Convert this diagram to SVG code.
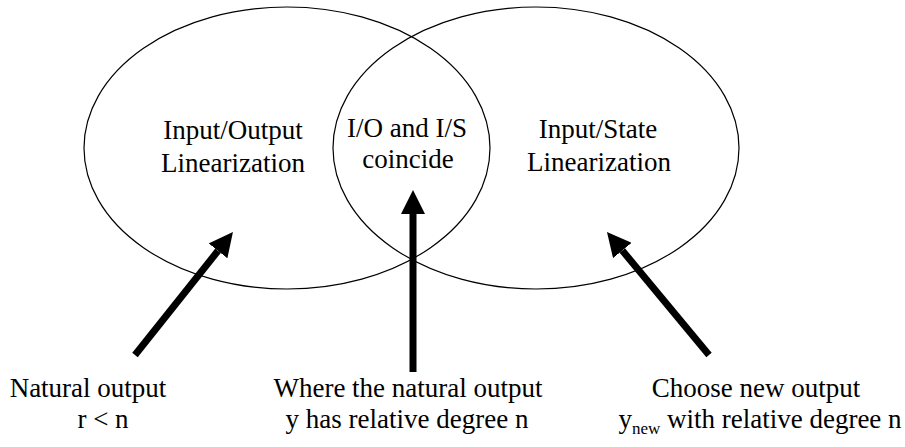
<svg xmlns="http://www.w3.org/2000/svg" width="905" height="447" viewBox="0 0 905 447">
<style>
.ell{fill:none;stroke:#000;stroke-width:1.2}
.t{font-size:27px;fill:#000;text-anchor:middle}
.arr{stroke:#000;stroke-width:7;fill:none;marker-end:url(#head)}
</style>
<defs>
<marker id="head" markerUnits="userSpaceOnUse" viewBox="0 0 24 24" markerWidth="24" markerHeight="24" refX="0" refY="12" orient="auto">
<path d="M0,0 L24,12 L0,24 z" fill="#000"/>
</marker>
</defs>
<rect width="905" height="447" fill="#fff"/>
<g font-family="'Liberation Serif', 'Times New Roman', 'DejaVu Serif', serif">
<g id="io-lin">
<ellipse class="ell" cx="287" cy="148" rx="203" ry="141"/>
<text class="t" x="233" y="139">Input/Output</text>
<text class="t" x="233" y="172">Linearization</text>
</g>
<g id="is-lin">
<ellipse class="ell" cx="536" cy="148" rx="203" ry="141"/>
<text class="t" x="598" y="138">Input/State</text>
<text class="t" x="599" y="171">Linearization</text>
</g>
<g id="coincide">
<text class="t" x="407" y="137">I/O and I/S</text>
<text class="t" x="408" y="168">coincide</text>
</g>
<g id="natural">
<text class="t" x="88" y="397">Natural output</text>
<text class="t" x="103" y="428">r &lt; n</text>
</g>
<g id="where">
<text class="t" x="408" y="397">Where the natural output</text>
<text class="t" x="407" y="428">y has relative degree n</text>
</g>
<g id="choose">
<text class="t" x="756" y="397">Choose new output</text>
<text class="t" x="760" y="428">y<tspan font-size="17" dy="6">new</tspan><tspan dy="-6"> with relative degree n</tspan></text>
</g>
</g>
<g id="connectors">
<line class="arr" x1="135" y1="355" x2="218" y2="250.8"/>
<line class="arr" x1="413" y1="372" x2="413" y2="214"/>
<line class="arr" x1="709" y1="355" x2="622.3" y2="250.5"/>
</g>
</svg>
